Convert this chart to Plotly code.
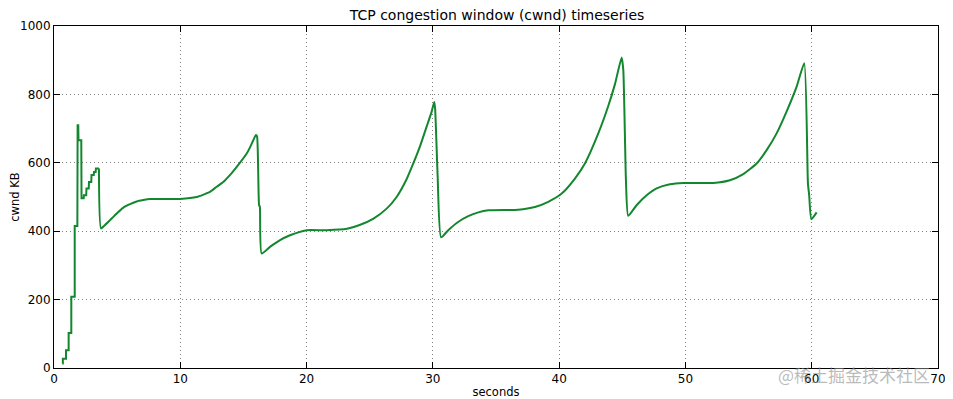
import plotly.graph_objects as go

title_text = "TCP congestion window (cwnd) timeseries"
x_label = "seconds"
y_label = "cwnd KB"
x_ticks = [0, 10, 20, 30, 40, 50, 60, 70]
y_ticks = [0, 200, 400, 600, 800, 1000]
watermark = "@稀土掘金技术社区"

seconds = [
    0.66, 0.70, 0.70, 0.95, 0.95, 1.16, 1.16, 1.37, 1.37, 1.64, 1.64, 1.85,
    1.87, 1.92, 1.94, 2.16, 2.18, 2.35, 2.37, 2.55, 2.57, 2.75, 2.77, 2.95,
    2.97, 3.15, 3.17, 3.30, 3.32, 3.56,
    3.72, 4.04, 4.43, 4.7, 5.09, 5.49, 6.02, 6.55, 7.07, 7.6, 8.5, 9.98,
    11.3, 12.35, 12.88, 13.4, 14.0, 14.47, 15.26, 15.52, 15.78, 15.99,
    16.08, 16.24, 16.30, 16.44,
    17.1, 17.9, 18.69, 19.48, 20.0, 21.6, 23.2, 24.2, 25.3, 26.34, 27.13,
    27.92, 28.45, 28.98, 29.5, 29.9, 30.11,
    30.18, 30.38, 30.65,
    31.22, 32.0, 32.8, 33.6, 34.4, 36.76, 38.08, 39.14, 40.2, 41.25, 42.04,
    43.1, 43.89, 44.42, 44.95,
    45.08, 45.29, 45.47,
    46.13, 46.93, 47.72, 48.77, 49.83, 52.2, 53.52, 54.58, 55.64, 56.43,
    57.22, 58.0, 58.8, 59.41,
    59.7, 59.8, 59.97, 60.39,
]
cwnd_kb = [
    13, 13, 27, 27, 52, 52, 102, 102, 208, 208, 415, 415,
    710, 710, 666, 666, 496, 496, 505, 505, 525, 525, 544, 544,
    564, 564, 573, 573, 583, 583,
    408, 418, 432, 442, 456, 469, 479, 487, 491, 494, 494.5, 494.5,
    500, 515, 530, 544, 567, 588, 627, 645, 666, 681,
    677, 476, 472, 335,
    354, 374, 388, 398, 403, 403, 407, 418, 437, 466, 500,
    552, 598, 648, 705, 749, 778,
    758, 560, 382,
    403, 427, 444, 455, 461, 463, 471, 486, 510, 554, 598,
    686, 766, 830, 908,
    871, 549, 445,
    476, 505, 525, 537, 541, 541, 549, 567, 598, 637,
    686, 749, 822, 891,
    540, 505, 435, 455,
]

# index where the slow-start staircase ends and the smooth CUBIC part begins
STEP_END = 30

line_style = dict(color="#13872e", width=2)

fig = go.Figure()
fig.add_trace(go.Scatter(
    x=seconds[:STEP_END], y=cwnd_kb[:STEP_END], mode="lines",
    line=dict(**line_style, shape="linear"),
    showlegend=False, hoverinfo="x+y",
))
fig.add_trace(go.Scatter(
    x=seconds[STEP_END - 1:], y=cwnd_kb[STEP_END - 1:], mode="lines",
    line=dict(**line_style, shape="spline", smoothing=0.5),
    showlegend=False, hoverinfo="x+y",
))

axis_common = dict(
    showline=True, linecolor="black", linewidth=1, mirror="ticks",
    ticks="inside", ticklen=6, tickcolor="black", automargin=False,
    showgrid=True, gridcolor="rgba(0,0,0,0.5)", gridwidth=1, griddash="1px,3px",
    zeroline=False, tickfont=dict(family="DejaVu Sans", size=12, color="black"),
)

# the page body adds an 8px offset, so the figure is sized to fill the rest
fig.update_layout(
    width=945, height=391,
    margin=dict(l=46, r=15, t=18, b=31),
    paper_bgcolor="white", plot_bgcolor="white",
    title=dict(text=title_text, x=0.5175, xanchor="center", yref="container",
               y=0.982, yanchor="middle", automargin=False,
               font=dict(family="DejaVu Sans", size=14, color="black")),
    xaxis=dict(range=[0, 70], tickvals=x_ticks,
               title=dict(text=x_label, standoff=5,
                          font=dict(family="DejaVu Sans", size=11.5, color="black")),
               **axis_common),
    yaxis=dict(range=[0, 1000], tickvals=y_ticks,
               title=dict(text=y_label, standoff=3,
                          font=dict(family="DejaVu Sans", size=11.5, color="black")),
               **axis_common),
    annotations=[dict(
        text=watermark, xref="paper", yref="paper", x=0.817, y=-0.02,
        xanchor="left", yanchor="middle", showarrow=False,
        font=dict(family="Noto Sans CJK SC", size=17, color="rgba(140,140,140,0.6)"),
    )],
)

fig.write_html("out.html")
